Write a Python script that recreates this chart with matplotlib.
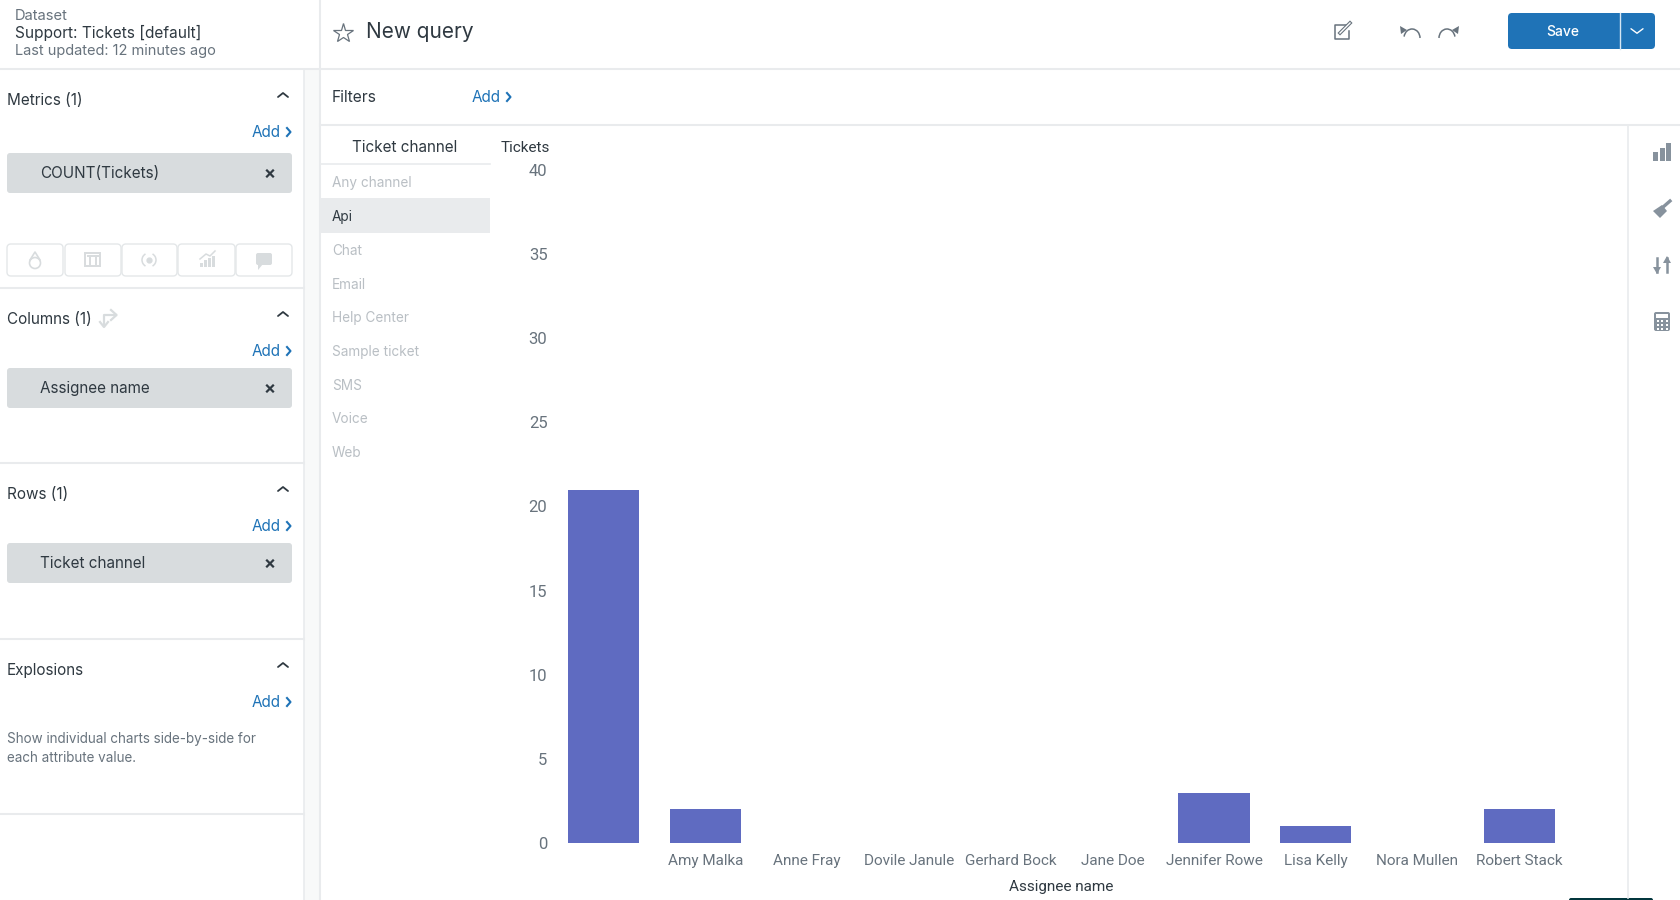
import numpy as np
import matplotlib
matplotlib.use("Agg")
import matplotlib.pyplot as plt
from matplotlib.patches import FancyBboxPatch, Rectangle, Polygon, Arc, Circle

plt.rcParams['font.family'] = ['Inter', 'DejaVu Sans']

# chart data
assignees = ["", "Amy Malka", "Anne Fray", "Dovile Janule", "Gerhard Bock", "Jane Doe",
             "Jennifer Rowe", "Lisa Kelly", "Nora Mullen", "Robert Stack"]
tickets = [21, 2, 0, 0, 0, 0, 3, 1, 0, 2]
y_ticks = [0, 5, 10, 15, 20, 25, 30, 35, 40]

# side lists
channels = ["Any channel", "Api", "Chat", "Email", "Help Center", "Sample ticket", "SMS", "Voice", "Web"]
selected_channel = "Api"
sections = ["Metrics (1)", "Columns (1)", "Rows (1)", "Explosions"]
chips = ["COUNT(Tickets)", "Assignee name", "Ticket channel"]

DARK = "#2f3941"
MUTED = "#68737d"
BLUE = "#1f73b7"
LINE = "#e9ebed"
CHIP = "#d8dcde"
FAINT = "#b9bfc4"
ICON = "#87929d"
ICON_FAINT = "#d8dcde"
BAR = "#5f6bc1"

fig = plt.figure(figsize=(16.8, 9), dpi=100, facecolor="white")

# whole page in pixel coordinates for the app chrome
ui = fig.add_axes([0, 0, 1, 1])
ui.set_xlim(0, 1680)
ui.set_ylim(900, 0)
ui.axis("off")


def label(x, y, s, size=11, color=DARK, ha="left", **kw):
    # +1.5 because centre alignment of these fonts sits a little high
    ui.text(x, y + 1.5, s, fontsize=size, color=color, ha=ha, va="center", **kw)


def chevron(x, y, up=True, w=5, h=4, color=DARK, lw=1.3):
    d = -h if up else h
    ui.plot([x - w, x, x + w], [y - d / 2, y + d / 2, y - d / 2], color=color, lw=lw, solid_capstyle="round")


def add_link(x_right, y):
    label(x_right - 11, y - 1, "Add", size=11, color=BLUE, ha="right")
    ui.plot([x_right - 5, x_right - 1.5, x_right - 5], [y - 4, y, y + 4], color=BLUE, lw=1.5)


def round_box(x0, y0, x1, y1, face, edge="none", r=3, lw=1.0):
    ui.add_patch(FancyBboxPatch((x0 + r, y0 + r), x1 - x0 - 2 * r, y1 - y0 - 2 * r,
                                boxstyle=f"round,pad={r},rounding_size={r}",
                                facecolor=face, edgecolor=edge, lw=lw))


# panels and dividers
ui.add_patch(Rectangle((304, 69), 16, 831, facecolor="#f8f9f9", edgecolor="none"))
ui.plot([0, 1680], [69, 69], color=LINE, lw=1.5)
ui.plot([320, 320], [0, 900], color=LINE, lw=1.5)
ui.plot([304, 304], [69, 900], color=LINE, lw=1.2)
ui.plot([320, 1680], [125, 125], color=LINE, lw=1.5)
ui.plot([1628, 1628], [125, 898], color=LINE, lw=1.2)
for y in [288, 463, 639, 814]:
    ui.plot([0, 304], [y, y], color=LINE, lw=1.5)

# dataset header
label(15, 14, "Dataset", size=10.6, color=MUTED)
label(15, 31, "Support: Tickets [default]", size=11.1, color=DARK)
label(15, 50, "Last updated: 12 minutes ago", size=10.5, color=MUTED)

# title bar
ui.plot([343], [33], marker="*", ms=15, mfc="none", mec=MUTED, mew=0.9)
label(366, 31, "New query", size=15, color=DARK)

# edit icon
ui.plot([1347, 1335, 1335, 1349, 1349], [25, 25, 39, 39, 31], color=MUTED, lw=1.1)
ui.plot([1340, 1350], [33, 23], color=MUTED, lw=2.6)
ui.plot([1340, 1350], [33, 23], color="white", lw=1.0)

# undo and redo
ui.add_patch(Arc((1412, 38), 16, 18, theta1=190, theta2=360, color=MUTED, lw=1.1))
ui.add_patch(Polygon([[1400, 26], [1407, 30], [1401, 34]], facecolor=MUTED, edgecolor="none"))
ui.add_patch(Arc((1447, 38), 16, 18, theta1=180, theta2=350, color=MUTED, lw=1.1))
ui.add_patch(Polygon([[1459, 26], [1452, 30], [1458, 34]], facecolor=MUTED, edgecolor="none"))

# save button
round_box(1508, 13, 1655, 49, BLUE, r=4)
ui.plot([1620, 1620], [13, 49], color="#d6e6f3", lw=1.0)
label(1563, 30, "Save", size=10, color="white", ha="center", fontweight="medium")
chevron(1637, 31, up=False, w=6, h=4.5, color="white", lw=1.0)

# filters row
label(332, 96, "Filters", size=11.2, color=DARK)
add_link(512, 97)

# row list
label(405, 146, "Ticket channel", size=11, color=DARK, ha="center")
ui.plot([320, 490], [164, 164], color=LINE, lw=1.2)
ui.add_patch(Rectangle((320, 198), 170, 35, facecolor="#e9ebed", edgecolor="none"))
for i, name in enumerate(channels):
    c = DARK if name == selected_channel else FAINT
    label(332, 182 + 33.7 * i, name, size=9.8, color=c)

# sidebar sections
section_y = [99, 318, 493, 669]
for name, y in zip(sections, section_y):
    label(7, y, name, size=11, color=DARK)
    chevron(283, y - 4)
    add_link(292, y + 33)

chip_y = [153, 368, 543]
for name, y in zip(chips, chip_y):
    round_box(7, y, 292, y + 40, CHIP, r=3)
    label(40, y + 19, name, size=11, color=DARK)
    ui.plot([267, 273], [y + 17.5, y + 23.5], color=DARK, lw=1.6)
    ui.plot([267, 273], [y + 23.5, y + 17.5], color=DARK, lw=1.6)

# swap icon next to Columns
ui.plot([104, 104, 116], [326, 315, 315], color=ICON_FAINT, lw=1.6)
ui.plot([111, 116.5, 111], [310, 315, 320], color=ICON_FAINT, lw=1.6)
ui.plot([100, 104, 108], [322, 327, 322], color=ICON_FAINT, lw=1.6)

# metric option buttons
for x0, x1 in [(7, 63), (65, 121), (122, 177), (178, 235), (236, 292)]:
    round_box(x0, 244, x1, 276, "white", edge="#e4e7e9", r=4, lw=1.0)
ui.add_patch(Circle((35, 263), 5.5, facecolor="none", edgecolor=ICON_FAINT, lw=1.2))
ui.plot([30, 35, 40], [260, 252, 260], color=ICON_FAINT, lw=1.2)
ui.add_patch(Rectangle((85, 253), 15, 13, facecolor="none", edgecolor=ICON_FAINT, lw=1.4))
for xx in [90, 95.5]:
    ui.plot([xx, xx], [256, 264], color=ICON_FAINT, lw=1.4)
    ui.plot([xx - 2, xx + 2], [256, 256], color=ICON_FAINT, lw=1.4)
ui.plot([149], [260], marker="o", ms=3.5, color=ICON_FAINT)
ui.add_patch(Arc((149, 260), 14, 14, theta1=120, theta2=240, color=ICON_FAINT, lw=1.1))
ui.add_patch(Arc((149, 260), 14, 14, theta1=-60, theta2=60, color=ICON_FAINT, lw=1.1))
for x, h in [(200, 4), (204, 7), (208, 9), (212, 11)]:
    ui.add_patch(Rectangle((x, 267 - h), 3, h, facecolor=ICON_FAINT, edgecolor="none"))
ui.plot([200, 206, 210, 215], [259, 254, 256, 251], color=ICON_FAINT, lw=1.1)
round_box(256, 253, 272, 265, ICON_FAINT, r=2)
ui.add_patch(Polygon([[258, 264], [258, 270], [263, 264]], facecolor=ICON_FAINT, edgecolor="none"))

# explosions help text
label(7, 738, "Show individual charts side-by-side for", size=9.7, color=MUTED)
label(7, 756, "each attribute value.", size=9.7, color=MUTED)

# right tool icons
for x, h in [(1653, 9), (1659.5, 13), (1666, 18)]:
    ui.add_patch(Rectangle((x, 161 - h), 5, h, facecolor=ICON, edgecolor="none"))
ui.add_patch(Polygon([[1653, 211], [1662, 205], [1667, 211], [1660, 218]], facecolor=ICON, edgecolor="none"))
ui.plot([1662, 1670], [208, 201], color=ICON, lw=2.4)
ui.plot([1657, 1657], [258, 272], color=ICON, lw=1.8)
ui.add_patch(Polygon([[1653, 267], [1661, 267], [1657, 274]], facecolor=ICON, edgecolor="none"))
ui.plot([1667, 1667], [258, 272], color=ICON, lw=1.8)
ui.add_patch(Polygon([[1663, 263], [1671, 263], [1667, 256]], facecolor=ICON, edgecolor="none"))
round_box(1654, 312, 1670, 331, ICON, r=2)
ui.add_patch(Rectangle((1656, 314), 12, 4, facecolor="white", edgecolor="none"))
for yy in [321, 325, 329]:
    for xx in [1657.5, 1662, 1666.5]:
        ui.add_patch(Rectangle((xx - 1, yy - 1), 2, 2, facecolor="white", edgecolor="none"))

# sliver of a dark element at the bottom edge
round_box(1569, 898, 1653, 904, "#03363d", r=2)

# axis caption
label(525, 146.5, "Tickets", size=11, color=DARK, ha="center", family="Roboto")

# the bar chart
ax = fig.add_axes([553 / 1680, 1 - 843 / 900, (1570 - 553) / 1680, (843 - 170) / 900])
ax.patch.set_alpha(0)
x = np.arange(len(assignees))
ax.bar(x, tickets, width=0.7, color=BAR, zorder=3)
ax.set_xlim(-0.5, len(assignees) - 0.5)
ax.set_ylim(0, 40)
ax.set_xticks(x)
ax.set_xticklabels(assignees, fontsize=11, color=MUTED, family="Roboto")
ax.set_yticks(y_ticks)
ax.set_yticklabels([str(v) for v in y_ticks], fontsize=12, color=MUTED, family="Roboto")
ax.tick_params(axis="x", length=0, pad=8)
ax.tick_params(axis="y", length=0, pad=4)
for s in ax.spines.values():
    s.set_visible(False)
ax.set_xlabel("Assignee name", fontsize=11, color=DARK, family="Roboto", labelpad=8.5)

fig.savefig("out.png", dpi=100)
